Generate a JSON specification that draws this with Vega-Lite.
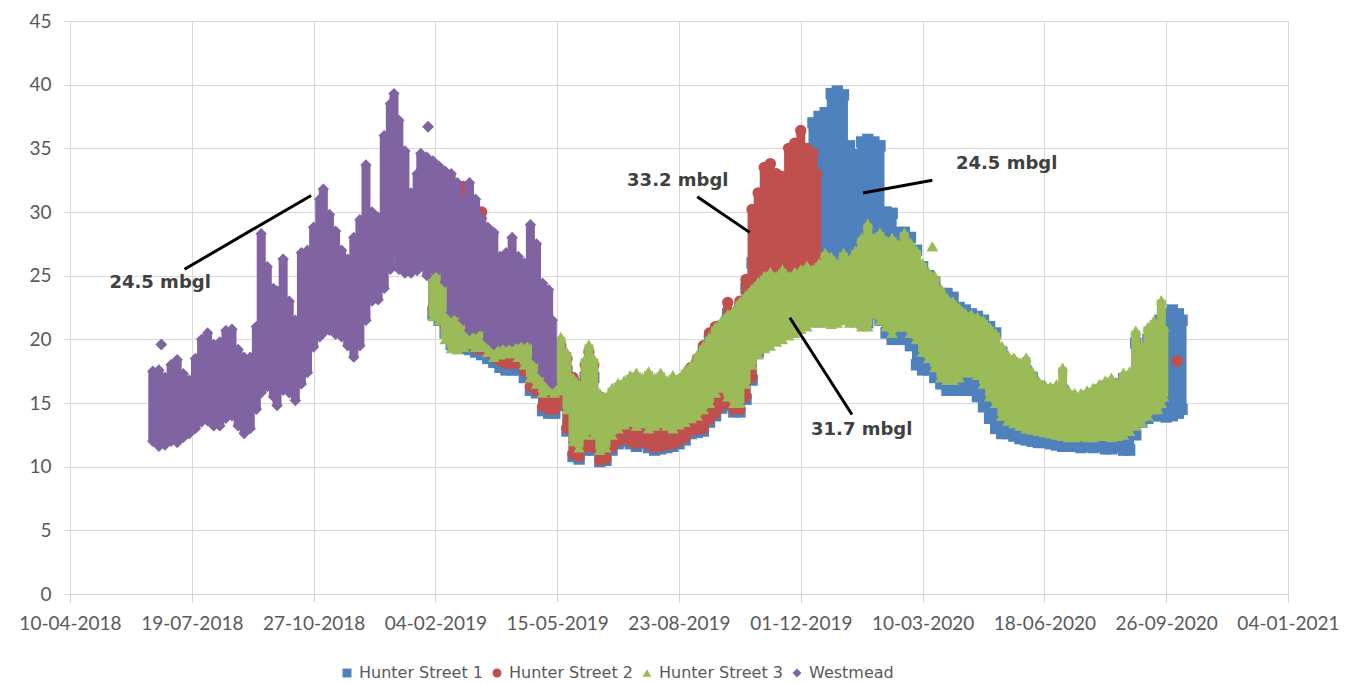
{
"$schema":"https://vega.github.io/schema/vega-lite/v6.json",
"width":1218,"height":573,
"autosize":{"type":"none"},
"padding":{"left":70,"top":21,"right":69,"bottom":89},
"background":"#ffffff",
"config":{"view":{"stroke":null},
 "legend":{"orient":"none","legendX":269,"legendY":644,"direction":"horizontal","labelFont":"DejaVu Sans","labelFontSize":16,"labelColor":"#595959","labelLimit":220,"symbolSize":80,"symbolStrokeWidth":0,"columnPadding":6,"labelOffset":4,"padding":0}},
"datasets":{
"levels":[
{"series":"Westmead","date":"2018-06-17","level":12.0,"top":17.5},
{"series":"Westmead","date":"2018-06-22","level":11.6,"top":17.6},
{"series":"Westmead","date":"2018-06-24","level":19.6,"top":19.6},
{"series":"Westmead","date":"2018-06-27","level":11.7,"top":17.0},
{"series":"Westmead","date":"2018-07-02","level":12.0,"top":18.0},
{"series":"Westmead","date":"2018-07-07","level":11.9,"top":18.4},
{"series":"Westmead","date":"2018-07-12","level":12.3,"top":17.3},
{"series":"Westmead","date":"2018-07-17","level":12.6,"top":16.8},
{"series":"Westmead","date":"2018-07-22","level":13.0,"top":18.5},
{"series":"Westmead","date":"2018-07-27","level":13.5,"top":20.0},
{"series":"Westmead","date":"2018-08-01","level":13.6,"top":20.5},
{"series":"Westmead","date":"2018-08-06","level":13.2,"top":19.6},
{"series":"Westmead","date":"2018-08-11","level":13.2,"top":19.8},
{"series":"Westmead","date":"2018-08-16","level":13.8,"top":20.7},
{"series":"Westmead","date":"2018-08-21","level":14.0,"top":20.8},
{"series":"Westmead","date":"2018-08-26","level":13.2,"top":19.2},
{"series":"Westmead","date":"2018-08-31","level":12.6,"top":18.6},
{"series":"Westmead","date":"2018-09-05","level":13.0,"top":18.6},
{"series":"Westmead","date":"2018-09-10","level":14.5,"top":21.0},
{"series":"Westmead","date":"2018-09-14","level":15.8,"top":28.3},
{"series":"Westmead","date":"2018-09-19","level":16.3,"top":25.7},
{"series":"Westmead","date":"2018-09-24","level":15.5,"top":24.0},
{"series":"Westmead","date":"2018-09-27","level":14.8,"top":23.8},
{"series":"Westmead","date":"2018-10-02","level":16.0,"top":26.3},
{"series":"Westmead","date":"2018-10-07","level":15.8,"top":23.0},
{"series":"Westmead","date":"2018-10-12","level":15.2,"top":21.5},
{"series":"Westmead","date":"2018-10-17","level":16.5,"top":26.8},
{"series":"Westmead","date":"2018-10-22","level":17.4,"top":27.0},
{"series":"Westmead","date":"2018-10-27","level":19.4,"top":28.8},
{"series":"Westmead","date":"2018-11-01","level":20.2,"top":31.0},
{"series":"Westmead","date":"2018-11-04","level":20.5,"top":31.8},
{"series":"Westmead","date":"2018-11-09","level":20.7,"top":29.8},
{"series":"Westmead","date":"2018-11-14","level":20.4,"top":28.5},
{"series":"Westmead","date":"2018-11-19","level":20.2,"top":27.0},
{"series":"Westmead","date":"2018-11-24","level":19.5,"top":26.3},
{"series":"Westmead","date":"2018-11-29","level":18.6,"top":28.0},
{"series":"Westmead","date":"2018-12-04","level":19.5,"top":29.4},
{"series":"Westmead","date":"2018-12-09","level":21.5,"top":33.7},
{"series":"Westmead","date":"2018-12-14","level":23.0,"top":30.0},
{"series":"Westmead","date":"2018-12-19","level":23.1,"top":29.6},
{"series":"Westmead","date":"2018-12-24","level":24.0,"top":36.0},
{"series":"Westmead","date":"2018-12-29","level":25.5,"top":38.5},
{"series":"Westmead","date":"2019-01-01","level":27.0,"top":39.3},
{"series":"Westmead","date":"2019-01-05","level":25.5,"top":37.2},
{"series":"Westmead","date":"2019-01-10","level":25.2,"top":34.8},
{"series":"Westmead","date":"2019-01-15","level":25.2,"top":31.5},
{"series":"Westmead","date":"2019-01-20","level":25.4,"top":33.0},
{"series":"Westmead","date":"2019-01-23","level":25.7,"top":34.6},
{"series":"Westmead","date":"2019-01-28","level":25.0,"top":34.3},
{"series":"Westmead","date":"2019-01-29","level":36.7,"top":36.7},
{"series":"Westmead","date":"2019-02-02","level":25.5,"top":34.0},
{"series":"Westmead","date":"2019-02-07","level":25.5,"top":33.6},
{"series":"Westmead","date":"2019-02-12","level":24.5,"top":33.2},
{"series":"Westmead","date":"2019-02-17","level":22.1,"top":33.0},
{"series":"Westmead","date":"2019-02-22","level":22.1,"top":32.3},
{"series":"Westmead","date":"2019-02-27","level":21.5,"top":31.0},
{"series":"Westmead","date":"2019-03-04","level":20.7,"top":32.3},
{"series":"Westmead","date":"2019-03-09","level":20.8,"top":31.0},
{"series":"Westmead","date":"2019-03-14","level":21.0,"top":29.5},
{"series":"Westmead","date":"2019-03-19","level":20.0,"top":28.8},
{"series":"Westmead","date":"2019-03-24","level":19.6,"top":28.4},
{"series":"Westmead","date":"2019-03-29","level":19.8,"top":26.5},
{"series":"Westmead","date":"2019-04-03","level":19.8,"top":26.8},
{"series":"Westmead","date":"2019-04-08","level":19.8,"top":28.0},
{"series":"Westmead","date":"2019-04-13","level":20.0,"top":26.5},
{"series":"Westmead","date":"2019-04-18","level":20.0,"top":26.0},
{"series":"Westmead","date":"2019-04-23","level":20.0,"top":29.0},
{"series":"Westmead","date":"2019-04-28","level":18.5,"top":27.5},
{"series":"Westmead","date":"2019-05-03","level":17.4,"top":24.4},
{"series":"Westmead","date":"2019-05-08","level":16.8,"top":23.9},
{"series":"Westmead","date":"2019-05-11","level":16.5,"top":21.5},
{"series":"Hunter Street 3","date":"2019-02-02","level":21.8,"top":25.6},
{"series":"Hunter Street 3","date":"2019-02-07","level":21.5,"top":25.3},
{"series":"Hunter Street 3","date":"2019-02-12","level":20.0,"top":24.5},
{"series":"Hunter Street 3","date":"2019-02-17","level":19.3,"top":23.0},
{"series":"Hunter Street 3","date":"2019-02-22","level":19.2,"top":22.8},
{"series":"Hunter Street 3","date":"2019-02-27","level":19.4,"top":23.5},
{"series":"Hunter Street 3","date":"2019-03-04","level":19.6,"top":24.0},
{"series":"Hunter Street 3","date":"2019-03-09","level":19.4,"top":23.0},
{"series":"Hunter Street 3","date":"2019-03-14","level":19.4,"top":22.0},
{"series":"Hunter Street 3","date":"2019-03-19","level":19.0,"top":21.5},
{"series":"Hunter Street 3","date":"2019-03-24","level":18.6,"top":21.5},
{"series":"Hunter Street 3","date":"2019-03-29","level":18.8,"top":21.0},
{"series":"Hunter Street 3","date":"2019-04-03","level":18.9,"top":21.0},
{"series":"Hunter Street 3","date":"2019-04-08","level":18.9,"top":21.0},
{"series":"Hunter Street 3","date":"2019-04-13","level":18.6,"top":21.0},
{"series":"Hunter Street 3","date":"2019-04-18","level":18.0,"top":20.5},
{"series":"Hunter Street 3","date":"2019-04-23","level":17.0,"top":20.0},
{"series":"Hunter Street 3","date":"2019-04-28","level":16.5,"top":19.5},
{"series":"Hunter Street 3","date":"2019-05-03","level":15.8,"top":19.5},
{"series":"Hunter Street 3","date":"2019-05-08","level":16.0,"top":19.0},
{"series":"Hunter Street 3","date":"2019-05-13","level":15.8,"top":19.8},
{"series":"Hunter Street 3","date":"2019-05-18","level":16.0,"top":20.2},
{"series":"Hunter Street 3","date":"2019-05-23","level":14.5,"top":19.0},
{"series":"Hunter Street 3","date":"2019-05-28","level":12.0,"top":17.0},
{"series":"Hunter Street 3","date":"2019-06-02","level":11.5,"top":16.5},
{"series":"Hunter Street 3","date":"2019-06-07","level":12.5,"top":18.5},
{"series":"Hunter Street 3","date":"2019-06-10","level":13.0,"top":19.6},
{"series":"Hunter Street 3","date":"2019-06-14","level":12.5,"top":18.5},
{"series":"Hunter Street 3","date":"2019-06-19","level":11.3,"top":15.8},
{"series":"Hunter Street 3","date":"2019-06-24","level":11.5,"top":15.5},
{"series":"Hunter Street 3","date":"2019-06-29","level":12.5,"top":16.2},
{"series":"Hunter Street 3","date":"2019-07-04","level":13.0,"top":16.6},
{"series":"Hunter Street 3","date":"2019-07-09","level":13.3,"top":16.8},
{"series":"Hunter Street 3","date":"2019-07-14","level":13.5,"top":17.2},
{"series":"Hunter Street 3","date":"2019-07-19","level":13.2,"top":17.4},
{"series":"Hunter Street 3","date":"2019-07-24","level":13.4,"top":17.0},
{"series":"Hunter Street 3","date":"2019-07-29","level":13.0,"top":17.5},
{"series":"Hunter Street 3","date":"2019-08-03","level":13.2,"top":17.0},
{"series":"Hunter Street 3","date":"2019-08-08","level":13.4,"top":17.4},
{"series":"Hunter Street 3","date":"2019-08-13","level":13.2,"top":16.8},
{"series":"Hunter Street 3","date":"2019-08-18","level":13.0,"top":17.2},
{"series":"Hunter Street 3","date":"2019-08-23","level":13.3,"top":17.0},
{"series":"Hunter Street 3","date":"2019-08-28","level":13.5,"top":17.6},
{"series":"Hunter Street 3","date":"2019-09-02","level":13.8,"top":18.0},
{"series":"Hunter Street 3","date":"2019-09-07","level":14.0,"top":18.8},
{"series":"Hunter Street 3","date":"2019-09-12","level":14.5,"top":19.5},
{"series":"Hunter Street 3","date":"2019-09-17","level":15.0,"top":20.2},
{"series":"Hunter Street 3","date":"2019-09-22","level":15.8,"top":21.0},
{"series":"Hunter Street 3","date":"2019-09-27","level":16.2,"top":21.5},
{"series":"Hunter Street 3","date":"2019-10-02","level":15.5,"top":22.0},
{"series":"Hunter Street 3","date":"2019-10-07","level":15.0,"top":22.3},
{"series":"Hunter Street 3","date":"2019-10-12","level":15.0,"top":23.0},
{"series":"Hunter Street 3","date":"2019-10-17","level":16.5,"top":23.5},
{"series":"Hunter Street 3","date":"2019-10-22","level":18.0,"top":24.0},
{"series":"Hunter Street 3","date":"2019-10-27","level":18.8,"top":24.5},
{"series":"Hunter Street 3","date":"2019-11-01","level":19.3,"top":25.0},
{"series":"Hunter Street 3","date":"2019-11-06","level":19.5,"top":25.3},
{"series":"Hunter Street 3","date":"2019-11-11","level":19.8,"top":25.0},
{"series":"Hunter Street 3","date":"2019-11-16","level":20.0,"top":25.5},
{"series":"Hunter Street 3","date":"2019-11-21","level":20.3,"top":25.0},
{"series":"Hunter Street 3","date":"2019-11-26","level":20.5,"top":25.3},
{"series":"Hunter Street 3","date":"2019-12-01","level":20.8,"top":25.5},
{"series":"Hunter Street 3","date":"2019-12-06","level":21.0,"top":25.8},
{"series":"Hunter Street 3","date":"2019-12-11","level":21.3,"top":25.5},
{"series":"Hunter Street 3","date":"2019-12-16","level":21.3,"top":26.0},
{"series":"Hunter Street 3","date":"2019-12-21","level":21.3,"top":26.8},
{"series":"Hunter Street 3","date":"2019-12-26","level":21.2,"top":26.5},
{"series":"Hunter Street 3","date":"2019-12-31","level":21.3,"top":26.0},
{"series":"Hunter Street 3","date":"2020-01-05","level":21.5,"top":26.8},
{"series":"Hunter Street 3","date":"2020-01-10","level":21.3,"top":26.3},
{"series":"Hunter Street 3","date":"2020-01-15","level":21.3,"top":27.0},
{"series":"Hunter Street 3","date":"2020-01-20","level":21.0,"top":28.0},
{"series":"Hunter Street 3","date":"2020-01-25","level":21.0,"top":29.1},
{"series":"Hunter Street 3","date":"2020-01-30","level":22.0,"top":28.0},
{"series":"Hunter Street 3","date":"2020-02-04","level":21.5,"top":28.4},
{"series":"Hunter Street 3","date":"2020-02-09","level":21.0,"top":27.8},
{"series":"Hunter Street 3","date":"2020-02-14","level":20.5,"top":28.0},
{"series":"Hunter Street 3","date":"2020-02-19","level":21.0,"top":27.5},
{"series":"Hunter Street 3","date":"2020-02-24","level":21.0,"top":28.4},
{"series":"Hunter Street 3","date":"2020-02-29","level":20.5,"top":27.6},
{"series":"Hunter Street 3","date":"2020-03-05","level":20.0,"top":27.0},
{"series":"Hunter Street 3","date":"2020-03-10","level":19.0,"top":26.0},
{"series":"Hunter Street 3","date":"2020-03-15","level":18.5,"top":25.3},
{"series":"Hunter Street 3","date":"2020-03-18","level":27.3,"top":27.3},
{"series":"Hunter Street 3","date":"2020-03-20","level":17.8,"top":25.0},
{"series":"Hunter Street 3","date":"2020-03-25","level":17.0,"top":24.0},
{"series":"Hunter Street 3","date":"2020-03-30","level":16.8,"top":23.3},
{"series":"Hunter Street 3","date":"2020-04-04","level":16.8,"top":23.0},
{"series":"Hunter Street 3","date":"2020-04-09","level":17.0,"top":22.5},
{"series":"Hunter Street 3","date":"2020-04-14","level":17.4,"top":22.1},
{"series":"Hunter Street 3","date":"2020-04-19","level":17.4,"top":22.0},
{"series":"Hunter Street 3","date":"2020-04-24","level":17.2,"top":21.8},
{"series":"Hunter Street 3","date":"2020-04-29","level":16.5,"top":21.5},
{"series":"Hunter Street 3","date":"2020-05-04","level":15.5,"top":21.0},
{"series":"Hunter Street 3","date":"2020-05-09","level":15.0,"top":20.5},
{"series":"Hunter Street 3","date":"2020-05-14","level":14.0,"top":19.5},
{"series":"Hunter Street 3","date":"2020-05-19","level":13.6,"top":18.8},
{"series":"Hunter Street 3","date":"2020-05-24","level":13.4,"top":18.6},
{"series":"Hunter Street 3","date":"2020-05-29","level":13.2,"top":18.2},
{"series":"Hunter Street 3","date":"2020-06-03","level":13.0,"top":18.6},
{"series":"Hunter Street 3","date":"2020-06-08","level":12.9,"top":17.5},
{"series":"Hunter Street 3","date":"2020-06-13","level":12.8,"top":16.8},
{"series":"Hunter Street 3","date":"2020-06-18","level":12.7,"top":16.5},
{"series":"Hunter Street 3","date":"2020-06-23","level":12.6,"top":16.3},
{"series":"Hunter Street 3","date":"2020-06-28","level":12.5,"top":16.5},
{"series":"Hunter Street 3","date":"2020-07-03","level":12.4,"top":17.8},
{"series":"Hunter Street 3","date":"2020-07-08","level":12.3,"top":16.0},
{"series":"Hunter Street 3","date":"2020-07-13","level":12.3,"top":15.8},
{"series":"Hunter Street 3","date":"2020-07-18","level":12.4,"top":15.8},
{"series":"Hunter Street 3","date":"2020-07-23","level":12.3,"top":16.0},
{"series":"Hunter Street 3","date":"2020-07-28","level":12.3,"top":16.2},
{"series":"Hunter Street 3","date":"2020-08-02","level":12.4,"top":16.5},
{"series":"Hunter Street 3","date":"2020-08-07","level":12.4,"top":16.8},
{"series":"Hunter Street 3","date":"2020-08-12","level":12.3,"top":17.0},
{"series":"Hunter Street 3","date":"2020-08-17","level":12.4,"top":16.6},
{"series":"Hunter Street 3","date":"2020-08-22","level":12.5,"top":17.4},
{"series":"Hunter Street 3","date":"2020-08-27","level":12.8,"top":17.5},
{"series":"Hunter Street 3","date":"2020-09-01","level":13.2,"top":20.7},
{"series":"Hunter Street 3","date":"2020-09-06","level":13.5,"top":19.5},
{"series":"Hunter Street 3","date":"2020-09-11","level":14.0,"top":21.0},
{"series":"Hunter Street 3","date":"2020-09-16","level":14.5,"top":21.5},
{"series":"Hunter Street 3","date":"2020-09-19","level":14.5,"top":21.0},
{"series":"Hunter Street 3","date":"2020-09-22","level":15.0,"top":23.1},
{"series":"Hunter Street 3","date":"2020-09-24","level":15.5,"top":21.0},
{"series":"Hunter Street 2","date":"2019-02-02","level":22.5,"top":28.0},
{"series":"Hunter Street 2","date":"2019-02-07","level":22.0,"top":29.0},
{"series":"Hunter Street 2","date":"2019-02-12","level":21.0,"top":30.0},
{"series":"Hunter Street 2","date":"2019-02-17","level":20.0,"top":31.0},
{"series":"Hunter Street 2","date":"2019-02-22","level":20.0,"top":30.5},
{"series":"Hunter Street 2","date":"2019-02-27","level":19.8,"top":32.0},
{"series":"Hunter Street 2","date":"2019-03-04","level":19.6,"top":29.0},
{"series":"Hunter Street 2","date":"2019-03-09","level":19.3,"top":28.5},
{"series":"Hunter Street 2","date":"2019-03-14","level":19.2,"top":30.0},
{"series":"Hunter Street 2","date":"2019-03-19","level":19.0,"top":27.0},
{"series":"Hunter Street 2","date":"2019-03-24","level":18.6,"top":26.0},
{"series":"Hunter Street 2","date":"2019-03-29","level":18.3,"top":25.0},
{"series":"Hunter Street 2","date":"2019-04-03","level":18.1,"top":24.5},
{"series":"Hunter Street 2","date":"2019-04-08","level":18.1,"top":24.0},
{"series":"Hunter Street 2","date":"2019-04-13","level":18.1,"top":24.0},
{"series":"Hunter Street 2","date":"2019-04-18","level":17.5,"top":23.5},
{"series":"Hunter Street 2","date":"2019-04-23","level":16.3,"top":23.0},
{"series":"Hunter Street 2","date":"2019-04-28","level":16.0,"top":22.0},
{"series":"Hunter Street 2","date":"2019-05-03","level":14.7,"top":21.0},
{"series":"Hunter Street 2","date":"2019-05-08","level":14.5,"top":20.0},
{"series":"Hunter Street 2","date":"2019-05-13","level":14.5,"top":19.5},
{"series":"Hunter Street 2","date":"2019-05-18","level":15.0,"top":19.5},
{"series":"Hunter Street 2","date":"2019-05-23","level":13.0,"top":18.5},
{"series":"Hunter Street 2","date":"2019-05-28","level":11.0,"top":17.0},
{"series":"Hunter Street 2","date":"2019-06-02","level":10.8,"top":16.5},
{"series":"Hunter Street 2","date":"2019-06-07","level":11.5,"top":18.0},
{"series":"Hunter Street 2","date":"2019-06-10","level":12.5,"top":19.0},
{"series":"Hunter Street 2","date":"2019-06-14","level":11.5,"top":18.0},
{"series":"Hunter Street 2","date":"2019-06-19","level":10.5,"top":15.5},
{"series":"Hunter Street 2","date":"2019-06-24","level":10.6,"top":15.0},
{"series":"Hunter Street 2","date":"2019-06-29","level":11.5,"top":15.5},
{"series":"Hunter Street 2","date":"2019-07-04","level":12.0,"top":16.0},
{"series":"Hunter Street 2","date":"2019-07-09","level":12.2,"top":16.0},
{"series":"Hunter Street 2","date":"2019-07-14","level":12.0,"top":16.5},
{"series":"Hunter Street 2","date":"2019-07-19","level":11.8,"top":16.5},
{"series":"Hunter Street 2","date":"2019-07-24","level":12.0,"top":16.5},
{"series":"Hunter Street 2","date":"2019-07-29","level":11.7,"top":16.8},
{"series":"Hunter Street 2","date":"2019-08-03","level":11.5,"top":16.5},
{"series":"Hunter Street 2","date":"2019-08-08","level":11.6,"top":16.5},
{"series":"Hunter Street 2","date":"2019-08-13","level":11.7,"top":16.5},
{"series":"Hunter Street 2","date":"2019-08-18","level":11.8,"top":16.5},
{"series":"Hunter Street 2","date":"2019-08-23","level":12.0,"top":16.8},
{"series":"Hunter Street 2","date":"2019-08-28","level":12.3,"top":17.0},
{"series":"Hunter Street 2","date":"2019-09-02","level":12.8,"top":17.8},
{"series":"Hunter Street 2","date":"2019-09-07","level":12.9,"top":18.5},
{"series":"Hunter Street 2","date":"2019-09-12","level":13.0,"top":19.5},
{"series":"Hunter Street 2","date":"2019-09-17","level":13.7,"top":20.5},
{"series":"Hunter Street 2","date":"2019-09-22","level":14.2,"top":21.0},
{"series":"Hunter Street 2","date":"2019-09-27","level":14.8,"top":21.0},
{"series":"Hunter Street 2","date":"2019-10-02","level":15.0,"top":22.9},
{"series":"Hunter Street 2","date":"2019-10-07","level":14.5,"top":22.0},
{"series":"Hunter Street 2","date":"2019-10-12","level":14.5,"top":23.0},
{"series":"Hunter Street 2","date":"2019-10-17","level":15.5,"top":24.7},
{"series":"Hunter Street 2","date":"2019-10-22","level":17.0,"top":30.2},
{"series":"Hunter Street 2","date":"2019-10-27","level":19.0,"top":31.5},
{"series":"Hunter Street 2","date":"2019-11-01","level":19.5,"top":33.5},
{"series":"Hunter Street 2","date":"2019-11-06","level":20.0,"top":33.8},
{"series":"Hunter Street 2","date":"2019-11-11","level":20.3,"top":33.0},
{"series":"Hunter Street 2","date":"2019-11-16","level":20.5,"top":32.8},
{"series":"Hunter Street 2","date":"2019-11-21","level":21.0,"top":35.0},
{"series":"Hunter Street 2","date":"2019-11-26","level":21.0,"top":35.4},
{"series":"Hunter Street 2","date":"2019-12-01","level":21.3,"top":36.4},
{"series":"Hunter Street 2","date":"2019-12-06","level":21.5,"top":35.0},
{"series":"Hunter Street 2","date":"2019-12-11","level":22.0,"top":34.6},
{"series":"Hunter Street 2","date":"2019-12-14","level":22.0,"top":33.0},
{"series":"Hunter Street 2","date":"2020-10-05","level":18.3,"top":18.3},
{"series":"Hunter Street 1","date":"2019-02-02","level":22.0,"top":26.0},
{"series":"Hunter Street 1","date":"2019-02-07","level":21.5,"top":26.0},
{"series":"Hunter Street 1","date":"2019-02-12","level":20.5,"top":26.0},
{"series":"Hunter Street 1","date":"2019-02-17","level":19.6,"top":26.0},
{"series":"Hunter Street 1","date":"2019-02-22","level":19.5,"top":26.0},
{"series":"Hunter Street 1","date":"2019-02-27","level":19.3,"top":26.0},
{"series":"Hunter Street 1","date":"2019-03-04","level":19.2,"top":26.0},
{"series":"Hunter Street 1","date":"2019-03-09","level":19.0,"top":25.0},
{"series":"Hunter Street 1","date":"2019-03-14","level":18.8,"top":25.0},
{"series":"Hunter Street 1","date":"2019-03-19","level":18.5,"top":24.0},
{"series":"Hunter Street 1","date":"2019-03-24","level":18.2,"top":24.0},
{"series":"Hunter Street 1","date":"2019-03-29","level":17.8,"top":23.0},
{"series":"Hunter Street 1","date":"2019-04-03","level":17.6,"top":23.0},
{"series":"Hunter Street 1","date":"2019-04-08","level":17.6,"top":22.0},
{"series":"Hunter Street 1","date":"2019-04-13","level":17.6,"top":22.0},
{"series":"Hunter Street 1","date":"2019-04-18","level":17.0,"top":21.5},
{"series":"Hunter Street 1","date":"2019-04-23","level":16.0,"top":21.0},
{"series":"Hunter Street 1","date":"2019-04-28","level":15.8,"top":20.5},
{"series":"Hunter Street 1","date":"2019-05-03","level":14.4,"top":20.0},
{"series":"Hunter Street 1","date":"2019-05-08","level":14.2,"top":19.5},
{"series":"Hunter Street 1","date":"2019-05-13","level":14.2,"top":19.0},
{"series":"Hunter Street 1","date":"2019-05-18","level":14.8,"top":18.5},
{"series":"Hunter Street 1","date":"2019-05-23","level":12.8,"top":17.5},
{"series":"Hunter Street 1","date":"2019-05-28","level":10.8,"top":16.0},
{"series":"Hunter Street 1","date":"2019-06-02","level":10.6,"top":15.5},
{"series":"Hunter Street 1","date":"2019-06-07","level":11.3,"top":17.0},
{"series":"Hunter Street 1","date":"2019-06-10","level":12.3,"top":18.0},
{"series":"Hunter Street 1","date":"2019-06-14","level":11.3,"top":17.0},
{"series":"Hunter Street 1","date":"2019-06-19","level":10.4,"top":15.0},
{"series":"Hunter Street 1","date":"2019-06-24","level":10.5,"top":14.5},
{"series":"Hunter Street 1","date":"2019-06-29","level":11.3,"top":15.0},
{"series":"Hunter Street 1","date":"2019-07-04","level":11.8,"top":15.5},
{"series":"Hunter Street 1","date":"2019-07-09","level":12.0,"top":15.5},
{"series":"Hunter Street 1","date":"2019-07-14","level":11.8,"top":16.0},
{"series":"Hunter Street 1","date":"2019-07-19","level":11.6,"top":16.0},
{"series":"Hunter Street 1","date":"2019-07-24","level":11.8,"top":16.0},
{"series":"Hunter Street 1","date":"2019-07-29","level":11.5,"top":16.0},
{"series":"Hunter Street 1","date":"2019-08-03","level":11.3,"top":16.0},
{"series":"Hunter Street 1","date":"2019-08-08","level":11.4,"top":16.0},
{"series":"Hunter Street 1","date":"2019-08-13","level":11.5,"top":16.0},
{"series":"Hunter Street 1","date":"2019-08-18","level":11.6,"top":16.0},
{"series":"Hunter Street 1","date":"2019-08-23","level":11.8,"top":16.2},
{"series":"Hunter Street 1","date":"2019-08-28","level":12.1,"top":16.5},
{"series":"Hunter Street 1","date":"2019-09-02","level":12.6,"top":17.0},
{"series":"Hunter Street 1","date":"2019-09-07","level":12.7,"top":18.0},
{"series":"Hunter Street 1","date":"2019-09-12","level":12.8,"top":19.0},
{"series":"Hunter Street 1","date":"2019-09-17","level":13.5,"top":20.0},
{"series":"Hunter Street 1","date":"2019-09-22","level":14.0,"top":20.5},
{"series":"Hunter Street 1","date":"2019-09-27","level":14.6,"top":21.0},
{"series":"Hunter Street 1","date":"2019-10-02","level":14.8,"top":22.0},
{"series":"Hunter Street 1","date":"2019-10-07","level":14.3,"top":22.0},
{"series":"Hunter Street 1","date":"2019-10-12","level":14.3,"top":22.5},
{"series":"Hunter Street 1","date":"2019-10-17","level":15.3,"top":24.0},
{"series":"Hunter Street 1","date":"2019-10-22","level":16.8,"top":26.0},
{"series":"Hunter Street 1","date":"2019-10-27","level":19.0,"top":28.0},
{"series":"Hunter Street 1","date":"2019-11-01","level":19.5,"top":30.0},
{"series":"Hunter Street 1","date":"2019-11-06","level":20.0,"top":30.0},
{"series":"Hunter Street 1","date":"2019-11-11","level":20.3,"top":30.0},
{"series":"Hunter Street 1","date":"2019-11-16","level":20.5,"top":31.0},
{"series":"Hunter Street 1","date":"2019-11-21","level":21.0,"top":32.0},
{"series":"Hunter Street 1","date":"2019-11-26","level":21.0,"top":32.0},
{"series":"Hunter Street 1","date":"2019-12-01","level":21.3,"top":32.0},
{"series":"Hunter Street 1","date":"2019-12-06","level":21.5,"top":33.0},
{"series":"Hunter Street 1","date":"2019-12-11","level":21.6,"top":37.0},
{"series":"Hunter Street 1","date":"2019-12-16","level":21.6,"top":37.5},
{"series":"Hunter Street 1","date":"2019-12-21","level":21.6,"top":37.8},
{"series":"Hunter Street 1","date":"2019-12-26","level":21.5,"top":39.3},
{"series":"Hunter Street 1","date":"2019-12-31","level":21.6,"top":39.5},
{"series":"Hunter Street 1","date":"2020-01-05","level":21.8,"top":39.2},
{"series":"Hunter Street 1","date":"2020-01-10","level":21.6,"top":35.2},
{"series":"Hunter Street 1","date":"2020-01-15","level":21.6,"top":34.5},
{"series":"Hunter Street 1","date":"2020-01-20","level":21.3,"top":35.5},
{"series":"Hunter Street 1","date":"2020-01-25","level":21.3,"top":35.7},
{"series":"Hunter Street 1","date":"2020-01-30","level":22.0,"top":35.5},
{"series":"Hunter Street 1","date":"2020-02-04","level":21.5,"top":35.2},
{"series":"Hunter Street 1","date":"2020-02-09","level":20.5,"top":30.0},
{"series":"Hunter Street 1","date":"2020-02-14","level":20.0,"top":29.9},
{"series":"Hunter Street 1","date":"2020-02-19","level":20.0,"top":28.4},
{"series":"Hunter Street 1","date":"2020-02-24","level":20.0,"top":28.4},
{"series":"Hunter Street 1","date":"2020-02-29","level":19.5,"top":28.0},
{"series":"Hunter Street 1","date":"2020-03-05","level":18.0,"top":27.0},
{"series":"Hunter Street 1","date":"2020-03-10","level":17.6,"top":25.7},
{"series":"Hunter Street 1","date":"2020-03-15","level":17.6,"top":25.0},
{"series":"Hunter Street 1","date":"2020-03-20","level":17.0,"top":24.5},
{"series":"Hunter Street 1","date":"2020-03-25","level":16.5,"top":23.6},
{"series":"Hunter Street 1","date":"2020-03-30","level":16.0,"top":23.6},
{"series":"Hunter Street 1","date":"2020-04-04","level":16.0,"top":23.3},
{"series":"Hunter Street 1","date":"2020-04-09","level":16.0,"top":22.5},
{"series":"Hunter Street 1","date":"2020-04-14","level":16.0,"top":22.3},
{"series":"Hunter Street 1","date":"2020-04-19","level":16.0,"top":22.0},
{"series":"Hunter Street 1","date":"2020-04-24","level":15.5,"top":21.8},
{"series":"Hunter Street 1","date":"2020-04-29","level":14.7,"top":21.5},
{"series":"Hunter Street 1","date":"2020-05-04","level":13.8,"top":21.0},
{"series":"Hunter Street 1","date":"2020-05-09","level":13.0,"top":20.5},
{"series":"Hunter Street 1","date":"2020-05-14","level":12.6,"top":19.0},
{"series":"Hunter Street 1","date":"2020-05-19","level":12.6,"top":18.3},
{"series":"Hunter Street 1","date":"2020-05-24","level":12.4,"top":18.0},
{"series":"Hunter Street 1","date":"2020-05-29","level":12.2,"top":17.5},
{"series":"Hunter Street 1","date":"2020-06-03","level":12.1,"top":17.5},
{"series":"Hunter Street 1","date":"2020-06-08","level":12.0,"top":17.0},
{"series":"Hunter Street 1","date":"2020-06-13","level":11.9,"top":16.3},
{"series":"Hunter Street 1","date":"2020-06-18","level":11.9,"top":16.0},
{"series":"Hunter Street 1","date":"2020-06-23","level":11.8,"top":15.8},
{"series":"Hunter Street 1","date":"2020-06-28","level":11.7,"top":16.0},
{"series":"Hunter Street 1","date":"2020-07-03","level":11.6,"top":16.0},
{"series":"Hunter Street 1","date":"2020-07-08","level":11.6,"top":15.5},
{"series":"Hunter Street 1","date":"2020-07-13","level":11.6,"top":15.3},
{"series":"Hunter Street 1","date":"2020-07-18","level":11.5,"top":15.3},
{"series":"Hunter Street 1","date":"2020-07-23","level":11.6,"top":15.5},
{"series":"Hunter Street 1","date":"2020-07-28","level":11.5,"top":15.7},
{"series":"Hunter Street 1","date":"2020-08-02","level":11.6,"top":16.0},
{"series":"Hunter Street 1","date":"2020-08-07","level":11.4,"top":16.3},
{"series":"Hunter Street 1","date":"2020-08-12","level":11.4,"top":16.5},
{"series":"Hunter Street 1","date":"2020-08-17","level":11.5,"top":16.1},
{"series":"Hunter Street 1","date":"2020-08-22","level":11.3,"top":16.9},
{"series":"Hunter Street 1","date":"2020-08-27","level":11.3,"top":17.0},
{"series":"Hunter Street 1","date":"2020-09-01","level":12.5,"top":19.7},
{"series":"Hunter Street 1","date":"2020-09-06","level":13.5,"top":19.0},
{"series":"Hunter Street 1","date":"2020-09-11","level":13.8,"top":20.0},
{"series":"Hunter Street 1","date":"2020-09-16","level":14.0,"top":20.5},
{"series":"Hunter Street 1","date":"2020-09-21","level":14.0,"top":21.5},
{"series":"Hunter Street 1","date":"2020-09-26","level":13.9,"top":22.0},
{"series":"Hunter Street 1","date":"2020-10-01","level":14.0,"top":22.3},
{"series":"Hunter Street 1","date":"2020-10-06","level":14.2,"top":22.0},
{"series":"Hunter Street 1","date":"2020-10-09","level":14.5,"top":21.5}
],
"callouts":[
{"date":"2018-07-13","level":25.5,"date2":"2018-10-25","level2":31.3},
{"date":"2019-09-07","level":31.2,"date2":"2019-10-20","level2":28.4},
{"date":"2020-01-21","level":31.5,"date2":"2020-03-18","level2":32.5},
{"date":"2019-11-22","level":21.7,"date2":"2020-01-12","level2":14.1}
],
"notes":[
{"date":"2018-06-23","level":24.4,"label":"24.5 mbgl"},
{"date":"2019-08-22","level":32.4,"label":"33.2 mbgl"},
{"date":"2020-05-18","level":33.8,"label":"24.5 mbgl"},
{"date":"2020-01-20","level":12.9,"label":"31.7 mbgl"}
]
},
"encoding":{
 "x":{"field":"date","type":"temporal","title":null,
  "scale":{"type":"utc","domain":[{"year":2018,"month":4,"date":10,"utc":true},{"year":2021,"month":1,"date":4,"utc":true}],"nice":false},
  "axis":{"values":[{"year":2018,"month":4,"date":10,"utc":true},{"year":2018,"month":7,"date":19,"utc":true},{"year":2018,"month":10,"date":27,"utc":true},{"year":2019,"month":2,"date":4,"utc":true},{"year":2019,"month":5,"date":15,"utc":true},{"year":2019,"month":8,"date":23,"utc":true},{"year":2019,"month":12,"date":1,"utc":true},{"year":2020,"month":3,"date":10,"utc":true},{"year":2020,"month":6,"date":18,"utc":true},{"year":2020,"month":9,"date":26,"utc":true},{"year":2021,"month":1,"date":4,"utc":true}],
   "format":"%d-%m-%Y","grid":true,"gridColor":"#D9D9D9","gridWidth":1,"domainColor":"#D0D0D0","tickColor":"#D0D0D0","tickSize":8,"labelPadding":12,"labelFont":"Lato","labelFontSize":19,"labelColor":"#595959","labelOverlap":false,"labelFlush":false,"labelAngle":0}},
 "y":{"field":"level","type":"quantitative","title":null,
  "scale":{"domain":[0,45],"nice":false},
  "axis":{"values":[0,5,10,15,20,25,30,35,40,45],"grid":true,"gridColor":"#D9D9D9","gridWidth":1,"domain":false,"tickColor":"#D9D9D9","tickSize":7,"labelPadding":12,"labelFont":"Lato","labelFontSize":19,"labelColor":"#595959"}}
},
"layer":[
 {"data":{"name":"levels"},"transform":[{"filter":"datum.series === 'Hunter Street 1'"}],
  "layer":[
   {"mark":{"type":"rule","strokeWidth":9,"color":"#4F81BD"},"encoding":{"y2":{"field":"top"}}},
   {"transform":[{"fold":["level","top"],"as":["edge","level"]}],
    "mark":{"type":"point","filled":true,"size":130,"opacity":1,"strokeWidth":0},
    "encoding":{"color":{"field":"series","type":"nominal","title":null,"scale":{"domain":["Hunter Street 1","Hunter Street 2","Hunter Street 3","Westmead"],"range":["#4F81BD","#C0504D","#9BBB59","#8064A2"]}},
     "shape":{"field":"series","type":"nominal","title":null,"scale":{"domain":["Hunter Street 1","Hunter Street 2","Hunter Street 3","Westmead"],"range":["square","circle","triangle-up","diamond"]}}}}
  ]},
 {"data":{"name":"levels"},"transform":[{"filter":"datum.series === 'Hunter Street 2'"}],
  "layer":[
   {"mark":{"type":"rule","strokeWidth":9,"color":"#C0504D"},"encoding":{"y2":{"field":"top"}}},
   {"transform":[{"fold":["level","top"],"as":["edge","level"]}],
    "mark":{"type":"point","filled":true,"size":130,"opacity":1,"strokeWidth":0},
    "encoding":{"color":{"field":"series","type":"nominal","title":null,"scale":{"domain":["Hunter Street 1","Hunter Street 2","Hunter Street 3","Westmead"],"range":["#4F81BD","#C0504D","#9BBB59","#8064A2"]}},
     "shape":{"field":"series","type":"nominal","title":null,"scale":{"domain":["Hunter Street 1","Hunter Street 2","Hunter Street 3","Westmead"],"range":["square","circle","triangle-up","diamond"]}}}}
  ]},
 {"data":{"name":"levels"},"transform":[{"filter":"datum.series === 'Hunter Street 3'"}],
  "layer":[
   {"mark":{"type":"rule","strokeWidth":9,"color":"#9BBB59"},"encoding":{"y2":{"field":"top"}}},
   {"transform":[{"fold":["level","top"],"as":["edge","level"]}],
    "mark":{"type":"point","filled":true,"size":130,"opacity":1,"strokeWidth":0},
    "encoding":{"color":{"field":"series","type":"nominal","title":null,"scale":{"domain":["Hunter Street 1","Hunter Street 2","Hunter Street 3","Westmead"],"range":["#4F81BD","#C0504D","#9BBB59","#8064A2"]}},
     "shape":{"field":"series","type":"nominal","title":null,"scale":{"domain":["Hunter Street 1","Hunter Street 2","Hunter Street 3","Westmead"],"range":["square","circle","triangle-up","diamond"]}}}}
  ]},
 {"data":{"name":"levels"},"transform":[{"filter":"datum.series === 'Westmead'"}],
  "layer":[
   {"mark":{"type":"rule","strokeWidth":9,"color":"#8064A2"},"encoding":{"y2":{"field":"top"}}},
   {"transform":[{"fold":["level","top"],"as":["edge","level"]}],
    "mark":{"type":"point","filled":true,"size":130,"opacity":1,"strokeWidth":0},
    "encoding":{"color":{"field":"series","type":"nominal","title":null,"scale":{"domain":["Hunter Street 1","Hunter Street 2","Hunter Street 3","Westmead"],"range":["#4F81BD","#C0504D","#9BBB59","#8064A2"]}},
     "shape":{"field":"series","type":"nominal","title":null,"scale":{"domain":["Hunter Street 1","Hunter Street 2","Hunter Street 3","Westmead"],"range":["square","circle","triangle-up","diamond"]}}}}
  ]},
 {"data":{"name":"callouts","format":{"parse":{"date":"date","date2":"date"}}},
  "mark":{"type":"rule","color":"#000000","strokeWidth":3},
  "encoding":{"x2":{"field":"date2"},"y2":{"field":"level2"}}},
 {"data":{"name":"notes"},
  "mark":{"type":"text","font":"DejaVu Sans","fontSize":18,"fontWeight":"bold","color":"#404040","align":"center","baseline":"middle"},
  "encoding":{"text":{"field":"label"}}}
]
}
